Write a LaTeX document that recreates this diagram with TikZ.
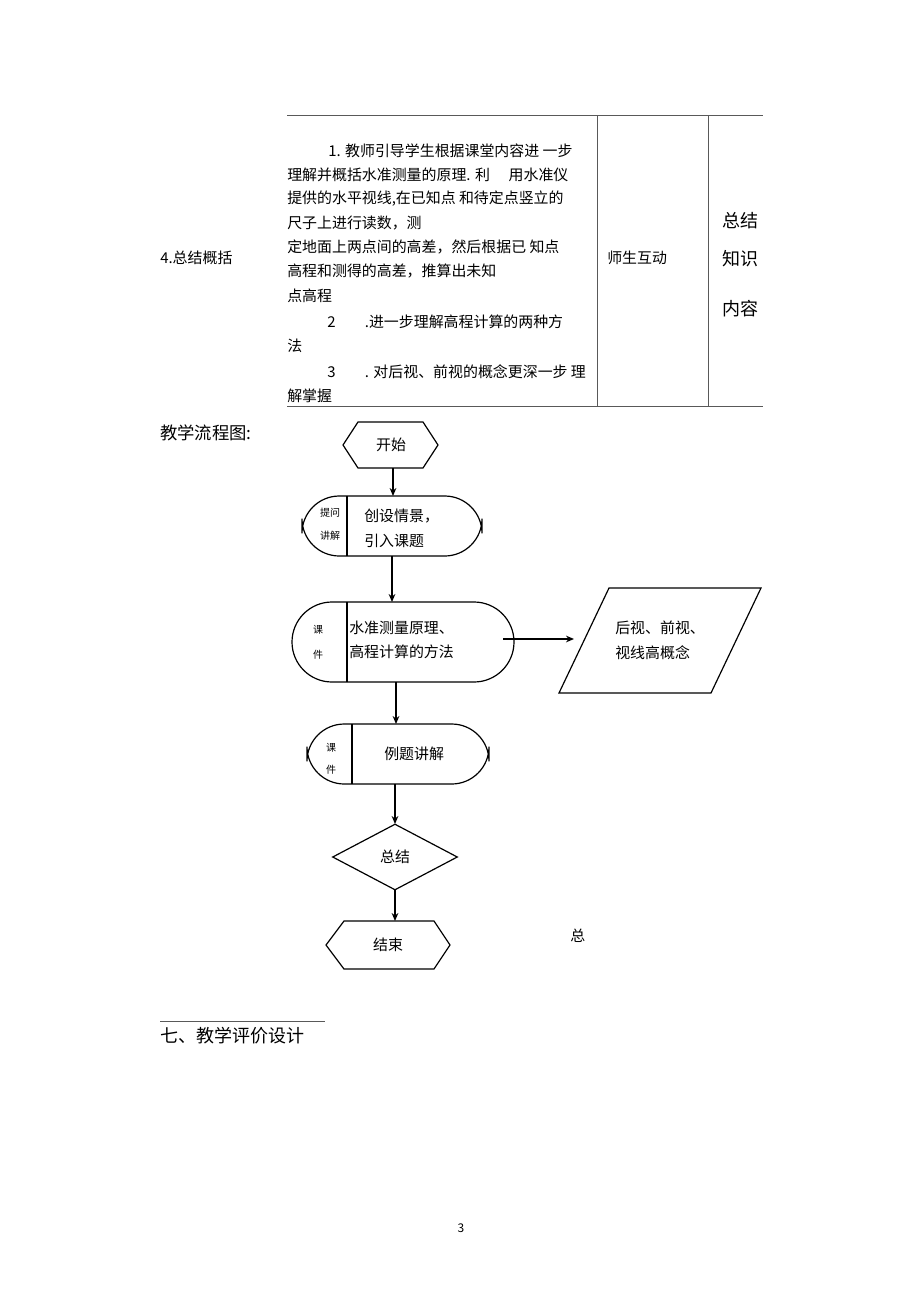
\documentclass[tikz,border=0pt]{standalone}
\usepackage{fontspec}
\setmainfont{Noto Sans CJK SC}
\usetikzlibrary{shapes.geometric,arrows.meta}
\begin{document}
\begin{tikzpicture}[x=0.75pt,y=-0.75pt,
  txt/.style={font=\fontsize{11.2}{13}\selectfont,inner sep=0,anchor=west},
  sm/.style={font=\fontsize{7.5}{9}\selectfont,inner sep=0},
  box/.style={draw,line width=0.9pt,rounded corners=28pt,inner sep=0},
  arr/.style={-{Stealth[length=6pt,width=5pt]},line width=1pt},
  ln/.style={line width=0.6pt,gray!70!black}]
\useasboundingbox (0,0) rectangle (920,1303);
% table
\draw[ln] (287,115) -- (763,115);
\draw[ln] (287,406) -- (763,406);
\draw[ln] (597,115) -- (597,406);
\draw[ln] (708,115) -- (708,406);
\node[txt] (c1) at (160,258) {4.总结概括};
\node[txt] (l1) at (328,151) {1. 教师引导学生根据课堂内容进 一步};
\node[txt] (l2) at (287,175) {理解并概括水准测量的原理. 利\hspace{14pt}用水准仪};
\node[txt] (l3) at (287,199) {提供的水平视线,在已知点 和待定点竖立的};
\node[txt] (l4) at (287,223) {尺子上进行读数，测};
\node[txt] (l5) at (287,247) {定地面上两点间的高差，然后根据已 知点};
\node[txt] (l6) at (287,271) {高程和测得的高差，推算出未知};
\node[txt] (l7) at (287,296) {点高程};
\node[txt] (l8) at (327,322) {2\hspace{22pt}.进一步理解高程计算的两种方};
\node[txt] (l9) at (287,346) {法};
\node[txt] (l10) at (327,372) {3\hspace{22pt}. 对后视、前视的概念更深一步 理};
\node[txt] (l11) at (287,396) {解掌握};
\node[txt] (c3) at (607,258) {师生互动};
\node[txt,font=\fontsize{13.5}{16}\selectfont] (d1) at (722,221) {总结};
\node[txt,font=\fontsize{13.5}{16}\selectfont] (d2) at (722,259) {知识};
\node[txt,font=\fontsize{13.5}{16}\selectfont] (d3) at (722,309) {内容};
\node[txt,font=\fontsize{13}{15}\selectfont] (fl) at (160,433) {教学流程图:};
% flowchart
\node[inner sep=0,minimum width=95pt*0.75,minimum height=46pt*0.75,font=\fontsize{11.2}{13}\selectfont] (start) at (391,445) {开始};
\draw[line width=0.9pt] (343,445) -- (358,422) -- (423,422) -- (438,445) -- (423,468) -- (358,468) -- cycle;
\node[box,minimum width=180pt*0.75,minimum height=60pt*0.75] (b1) at (392,526) {};
\draw[line width=0.9pt] (347,496) -- (347,556);
\node[sm] at (330,513) {提问};
\node[sm] at (330,536) {讲解};
\node[txt] at (364,516) {创设情景，};
\node[txt] at (364,541) {引入课题};
\node[box,minimum width=222pt*0.75,minimum height=80pt*0.75,rounded corners=30pt] (b2) at (403,642) {};
\draw[line width=0.9pt] (347,602) -- (347,682);
\node[sm] at (318,630) {课};
\node[sm] at (318,655) {件};
\node[txt] at (349,628) {水准测量原理、};
\node[txt] at (349,652) {高程计算的方法};
\node[inner sep=0,minimum width=100pt*0.75,minimum height=100pt*0.75] (para) at (660,640) {};
\draw[line width=0.9pt] (609,588) -- (761,588) -- (711,693) -- (559,693) -- cycle;
\node[txt] at (615,628) {后视、前视、};
\node[txt] at (615,653) {视线高概念};
\node[box,minimum width=182pt*0.75,minimum height=60pt*0.75] (b3) at (398,754) {};
\draw[line width=0.9pt] (352,724) -- (352,784);
\node[sm] at (331,748) {课};
\node[sm] at (331,770) {件};
\node[txt] at (384,754) {例题讲解};
\node[diamond,draw,line width=0.9pt,inner sep=0,minimum width=125pt*0.75,minimum height=66pt*0.75,font=\fontsize{11.2}{13}\selectfont] (sum) at (395,857) {总结};
\node[inner sep=0,minimum width=124pt*0.75,minimum height=48pt*0.75,font=\fontsize{11.2}{13}\selectfont] (end) at (388,945) {结束};
\draw[line width=0.9pt] (326,945) -- (344,921) -- (434,921) -- (450,945) -- (434,969) -- (344,969) -- cycle;
\draw[arr] (393,468) -- (393,496);
\draw[arr] (392,556) -- (392,602);
\draw[arr] (396,682) -- (396,724);
\draw[arr] (395,784) -- (395,824);
\draw[arr] (395,890) -- (395,921);
\draw[arr] (503,639) -- (574,639);
\node[txt] (z) at (570,936) {总};
\draw[ln] (160,1021) -- (325,1021);
\node[txt,font=\fontsize{13.5}{16}\selectfont] (h7) at (160,1036) {七、教学评价设计};
\node[font=\fontsize{9}{11}\selectfont,inner sep=0] (pg) at (461,1228) {3};
\end{tikzpicture}
\end{document}
